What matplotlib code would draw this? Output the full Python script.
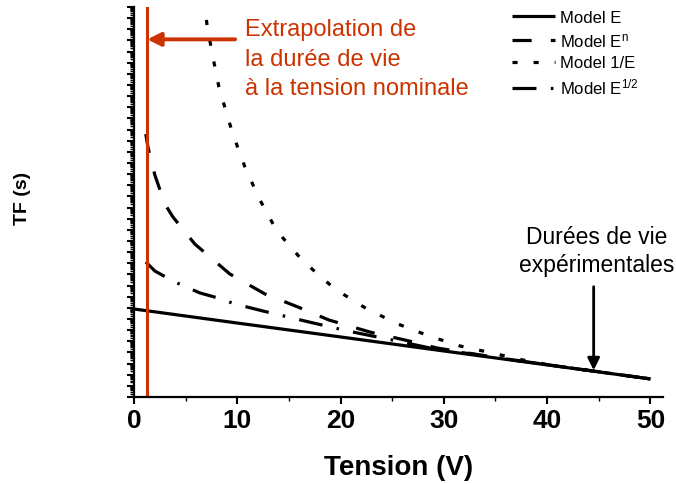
import matplotlib
matplotlib.use("Agg")
import matplotlib.pyplot as plt
from matplotlib.ticker import LogLocator, NullFormatter, MultipleLocator
import numpy as np

plt.rcParams['font.family'] = ['Liberation Sans', 'DejaVu Sans']
plt.rcParams['mathtext.fontset'] = 'custom'
plt.rcParams['mathtext.rm'] = 'Liberation Sans'
plt.rcParams['mathtext.it'] = 'Liberation Sans'

# --- data (x in V, y as log10 of TF in s) ---
x_E = [0, 10, 20, 30, 40, 50]
logtf_E = [7.9, 6.64, 5.39, 4.13, 2.88, 1.62]

x_En = [1.16, 1.36, 2.03, 3.0, 3.78, 5.9, 9.29, 12.68, 15.88, 18.88, 22.85,
        26.62, 29.33, 35, 40, 50]
logtf_En = [23.6, 22.44, 19.93, 17.32, 16.16, 13.73, 11.04, 9.25, 8.08, 6.91,
            5.83, 5.03, 4.40, 3.55, 2.9, 1.62]

x_inv = [6.7, 6.87, 7.07, 7.36, 7.65, 8.23, 8.71, 9.58, 10.75, 12.1, 13.84,
         16.36, 19.46, 22.56, 25.56, 28.56, 31.56, 34.66, 37.66, 40.27, 50]
logtf_inv = [36.5, 35.0, 33.48, 31.96, 30.52, 27.83, 26.3, 23.6, 20.65, 17.86,
             14.9, 12.21, 9.69, 7.9, 6.55, 5.48, 4.58, 3.95, 3.32, 2.87, 1.62]

x_sqrt = [1.16, 2.03, 3.97, 6.39, 8.13, 9.78, 12.49, 16.55, 20.72, 24.98,
          28.65, 35, 40, 50]
logtf_sqrt = [12.12, 11.31, 10.32, 9.34, 8.89, 8.35, 7.72, 6.82, 5.92, 5.12,
              4.40, 3.55, 2.9, 1.62]

v_nominal = 1.25      # red line
v_exp = 44.5          # experimental arrow

red = '#cc3300'

fig = plt.figure(figsize=(6.76, 4.85), dpi=100)
ax = fig.add_axes([0.198, 0.1794, 0.7826, 0.804])

lw = 2.3
ax.plot(x_E, 10 ** np.array(logtf_E), color='black', lw=lw,
        solid_capstyle='butt', label='Model E')
ax.plot(x_En, 10 ** np.array(logtf_En), color='black', lw=lw,
        dashes=(6, 6), label='Model E$^{n}$')
ax.plot(x_inv, 10 ** np.array(logtf_inv), color='black', lw=lw,
        dashes=(1.6, 5.0), label='Model 1/E')
ax.plot(x_sqrt, 10 ** np.array(logtf_sqrt), color='black', lw=lw,
        dashes=(7.5, 4.5, 0.8, 4.5), label='Model E$^{1/2}$')

ax.axvline(v_nominal, color=red, lw=2.2)

ax.set_yscale('log')
ax.set_xlim(0, 51.2)
ax.set_ylim(1, 1e35)

ax.yaxis.set_major_locator(LogLocator(base=10, numticks=100))
ax.yaxis.set_minor_locator(LogLocator(base=10, subs=np.arange(2, 10), numticks=100))
ax.yaxis.set_major_formatter(NullFormatter())
ax.yaxis.set_minor_formatter(NullFormatter())
ax.xaxis.set_major_locator(MultipleLocator(10))
ax.xaxis.set_minor_locator(MultipleLocator(5))

for s in ['top', 'right']:
    ax.spines[s].set_visible(False)
for s in ['left', 'bottom']:
    ax.spines[s].set_linewidth(1.6)

ax.tick_params(which='major', direction='out', length=5, width=1.5)
ax.tick_params(which='minor', direction='out', length=3, width=1.0)
ax.tick_params(axis='x', labelsize=19, pad=3)
for t in ax.get_xticklabels():
    t.set_fontweight('bold')

ax.set_xlabel('Tension (V)', fontsize=20, fontweight='bold', labelpad=16)
fig.text(0.034, 0.59, 'TF (s)', rotation=90, fontsize=14, fontweight='bold',
         ha='center', va='center')

# red annotation
ax.annotate('', xy=(v_nominal + 0.05, 10 ** 32.1), xytext=(9.8, 10 ** 32.1),
            arrowprops=dict(arrowstyle='-|>', color=red, lw=2.8,
                            mutation_scale=20, shrinkA=0, shrinkB=0))
ax.text(10.8, 10 ** 34.0, 'Extrapolation de\nla durée de vie\nà la tension nominale',
        color=red, fontsize=17, ha='left', va='top', linespacing=1.45)

# experimental annotation
ax.annotate('', xy=(v_exp, 10 ** 2.4), xytext=(v_exp, 10 ** 9.9),
            arrowprops=dict(arrowstyle='-|>', color='black', lw=2,
                            mutation_scale=18, shrinkA=0, shrinkB=0))
ax.text(v_exp + 0.3, 10 ** 10.9, 'Durées de vie\nexpérimentales', color='black',
        fontsize=16.5, ha='center', va='bottom', linespacing=1.25)

leg = fig.legend(loc='upper left', bbox_to_anchor=(505 / 676, 1 - 4 / 485),
                 frameon=False, fontsize=12, handlelength=2.6, labelspacing=0.38,
                 handletextpad=0.3, borderaxespad=0.0)

fig.savefig('out.png', dpi=100)
